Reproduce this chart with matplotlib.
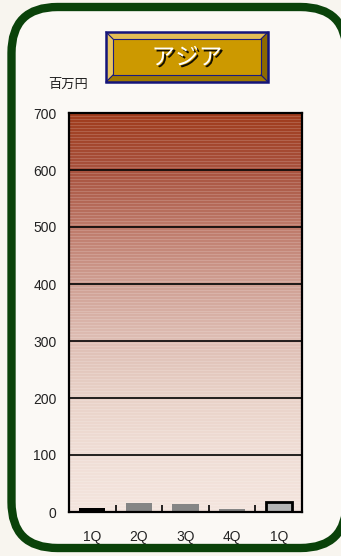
import numpy as np
import matplotlib.pyplot as plt
from matplotlib.patches import FancyBboxPatch, Rectangle, Polygon
import matplotlib.patheffects as pe

# chart data
quarters = ['1Q', '2Q', '3Q', '4Q', '1Q']
sales = [7, 16, 14, 6, 17]
bar_colors = ['#000000', '#858585', '#858585', '#858585', '#b4b4b4']
yticks = [0, 100, 200, 300, 400, 500, 600, 700]
title = 'アジア'
unit = '百万円'

W, H = 341, 556
fig = plt.figure(figsize=(W / 100, H / 100), dpi=100)
fig.patch.set_facecolor('#f8f5ef')

# rounded green frame (pixel coords on a full-figure axes), right side runs off the picture
bg = fig.add_axes([0, 0, 1, 1])
bg.set_xlim(0, W)
bg.set_ylim(H, 0)
bg.axis('off')
frame = FancyBboxPatch((11.5, 7), 335, 541, boxstyle='round,pad=0,rounding_size=46',
                       facecolor='#fbf9f5', edgecolor='#0a420a', linewidth=6)
bg.add_patch(frame)

# title plate with bevel
x0, y0, x1, y1 = 106, 32, 268, 82
b = 7
bg.add_patch(Polygon([(x0, y0), (x1, y0), (x1 - b, y0 + b), (x0 + b, y0 + b)], closed=True,
                     facecolor='#e2bd55', edgecolor='none'))
bg.add_patch(Polygon([(x0, y0), (x0 + b, y0 + b), (x0 + b, y1 - b), (x0, y1)], closed=True,
                     facecolor='#e8c560', edgecolor='none'))
bg.add_patch(Polygon([(x1, y0), (x1, y1), (x1 - b, y1 - b), (x1 - b, y0 + b)], closed=True,
                     facecolor='#8c6a00', edgecolor='none'))
bg.add_patch(Polygon([(x0, y1), (x1, y1), (x1 - b, y1 - b), (x0 + b, y1 - b)], closed=True,
                     facecolor='#a07a00', edgecolor='none'))
bg.add_patch(Rectangle((x0 + b, y0 + b), x1 - x0 - 2 * b, y1 - y0 - 2 * b,
                       facecolor='#cc9900', edgecolor='#1a1a80', linewidth=0.8))
bg.add_patch(Rectangle((x0, y0), x1 - x0, y1 - y0, facecolor='none',
                       edgecolor='#14147a', linewidth=1.8))
for a, c in [((x0, y0), (x0 + b, y0 + b)), ((x1, y0), (x1 - b, y0 + b)),
             ((x0, y1), (x0 + b, y1 - b)), ((x1, y1), (x1 - b, y1 - b))]:
    bg.plot([a[0], c[0]], [a[1], c[1]], color='#14147a', lw=0.8)
bg.text((x0 + x1) / 2, (y0 + y1) / 2 + 1, title, ha='center', va='center',
        fontsize=17, color='white', family=['Noto Sans CJK JP', 'DejaVu Sans'],
        path_effects=[pe.withSimplePatchShadow(offset=(1.5, -1.5), shadow_rgbFace='black', alpha=0.9)])
bg.text(68, 84, unit, ha='center', va='center', fontsize=9.5, color='#222222',
        family=['Noto Sans CJK JP', 'DejaVu Sans'])

# plot area
ax = fig.add_axes([69 / W, 1 - 512 / H, 233 / W, 399 / H])
ax.set_xlim(-0.5, len(quarters) - 0.5)
ax.set_ylim(0, 700)

# striped gradient background
stops_y = np.array([0, 100, 200, 300, 400, 500, 600, 700])
stops_c = np.array([
    [244, 229, 222], [240, 222, 214], [233, 210, 200], [222, 190, 180],
    [208, 160, 148], [190, 122, 106], [168, 82, 62], [160, 60, 28]]) / 255
rows = 400
yy = np.linspace(700, 0, rows)
img = np.zeros((rows, 1, 3))
for k in range(3):
    img[:, 0, k] = np.interp(yy, stops_y, stops_c[:, k])
for i in range(rows):
    if i % 3 == 0:
        img[i, 0] = img[i, 0] + (1 - img[i, 0]) * 0.16
ax.imshow(img, extent=[-0.5, len(quarters) - 0.5, 0, 700], aspect='auto', zorder=0,
          interpolation='nearest')

for yv in yticks[1:-1]:
    ax.axhline(yv, color='black', lw=1.2, zorder=1)

x = np.arange(len(quarters))
ax.bar(x, sales, width=0.56, color=bar_colors, edgecolor=['black', 'none', 'none', 'none', 'black'],
       linewidth=[0, 0, 0, 0, 2], zorder=2)

for s in ax.spines.values():
    s.set_color('black')
    s.set_linewidth(1.6)

ax.set_yticks(yticks)
ax.set_yticklabels([str(v) for v in yticks], family='Liberation Sans', fontsize=10, color='#222222')
ax.tick_params(axis='y', length=0, pad=9)
ax.set_xticks(x)
ax.set_xticklabels(quarters, family='Liberation Sans', fontsize=10, color='#222222')
ax.tick_params(axis='x', which='major', length=0, pad=13)
ax.set_xticks(np.arange(0.5, len(quarters) - 0.5), minor=True)
ax.tick_params(axis='x', which='minor', direction='in', length=5, width=1.2, color='black')

fig.savefig('out.png', dpi=100, facecolor=fig.get_facecolor())
